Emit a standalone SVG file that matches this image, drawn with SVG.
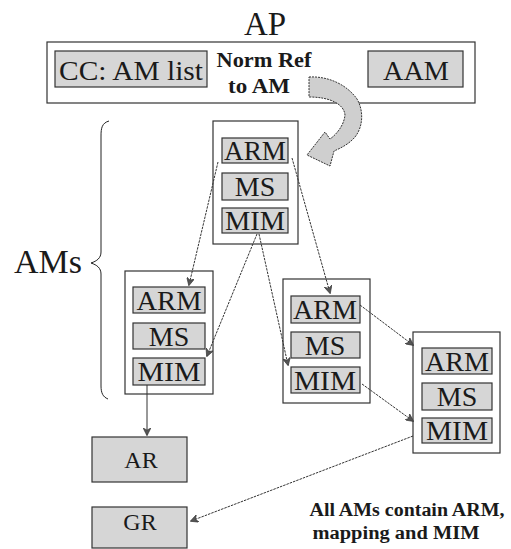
<svg xmlns="http://www.w3.org/2000/svg" width="511" height="549" viewBox="0 0 511 549">
<defs>
<marker id="ah" viewBox="0 0 10 10" refX="9" refY="5" markerWidth="8" markerHeight="8" orient="auto" markerUnits="userSpaceOnUse">
<path d="M0,0 L10,5 L0,10 L3,5 Z" fill="#555" stroke="#333" stroke-width="0.8"/>
</marker>
</defs>
<rect width="511" height="549" fill="#fff"/>
<g id="ap">
<text x="265" y="35" font-size="33" text-anchor="middle" fill="#1a1a1a" style="font-family:'Liberation Serif',serif">AP</text>
<rect x="47" y="42" width="428" height="61" fill="#fff" stroke="#333" stroke-width="1.2"/>
</g>
<g id="cc-am-list">
<rect x="55" y="51" width="152" height="36" fill="#d6d6d6" stroke="#333" stroke-width="1.2"/>
<text x="131" y="80" font-size="27" text-anchor="middle" fill="#1a1a1a" style="font-family:'Liberation Serif',serif" textLength="144" lengthAdjust="spacingAndGlyphs">CC: AM list</text>
</g>
<g id="aam">
<rect x="368" y="51" width="95" height="36" fill="#d6d6d6" stroke="#333" stroke-width="1.2"/>
<text x="416" y="80" font-size="28" text-anchor="middle" fill="#1a1a1a" style="font-family:'Liberation Serif',serif" textLength="66" lengthAdjust="spacingAndGlyphs">AAM</text>
</g>
<g id="norm-ref">
<text x="264" y="67" font-size="20" font-weight="bold" text-anchor="middle" fill="#1a1a1a" style="font-family:'Liberation Serif',serif" textLength="95" lengthAdjust="spacingAndGlyphs">Norm Ref</text>
<text x="259" y="93" font-size="20" font-weight="bold" text-anchor="middle" fill="#1a1a1a" style="font-family:'Liberation Serif',serif" textLength="62" lengthAdjust="spacingAndGlyphs">to  AM</text>
<path d="M309,77 C329,76 347,85 357,99 C364,111 363,127 355,137 C349,144 341,148 334,151 L330,166 L307,155 L325,132 L330,139 C337,134 344,125 345,115 C344,104 330,97 309,97 Z" fill="#cfcfcf" stroke="#333" stroke-width="1" stroke-dasharray="2,1"/>
</g>
<g id="ams-brace">
<text x="48" y="273" font-size="34" text-anchor="middle" fill="#1a1a1a" style="font-family:'Liberation Serif',serif">AMs</text>
<path d="M109,121 C102,123 101,128 101,136 L101,252 C101,258 97,261 91,263 C97,265 101,268 101,274 L101,386 C101,393 103,397 108,399" fill="none" stroke="#222" stroke-width="1"/>
</g>
<g id="am-top">
<rect x="213" y="121" width="85" height="123" fill="#fff" stroke="#333" stroke-width="1.2"/>
<rect x="222" y="138" width="66" height="25" fill="#d6d6d6" stroke="#333" stroke-width="1.2"/>
<text x="255" y="160" font-size="28" text-anchor="middle" fill="#1a1a1a" style="font-family:'Liberation Serif',serif" textLength="62" lengthAdjust="spacingAndGlyphs">ARM</text>
<rect x="222" y="173" width="66" height="27" fill="#d6d6d6" stroke="#333" stroke-width="1.2"/>
<text x="255" y="196" font-size="28" text-anchor="middle" fill="#1a1a1a" style="font-family:'Liberation Serif',serif">MS</text>
<rect x="222" y="208" width="66" height="25" fill="#d6d6d6" stroke="#333" stroke-width="1.2"/>
<text x="255" y="230" font-size="28" text-anchor="middle" fill="#1a1a1a" style="font-family:'Liberation Serif',serif" textLength="60" lengthAdjust="spacingAndGlyphs">MIM</text>
</g>
<g id="am-left">
<rect x="125" y="271" width="88" height="123" fill="#fff" stroke="#333" stroke-width="1.2"/>
<rect x="133" y="287" width="72" height="26" fill="#d6d6d6" stroke="#333" stroke-width="1.2"/>
<text x="169" y="310" font-size="28" text-anchor="middle" fill="#1a1a1a" style="font-family:'Liberation Serif',serif" textLength="65" lengthAdjust="spacingAndGlyphs">ARM</text>
<rect x="133" y="323" width="72" height="26" fill="#d6d6d6" stroke="#333" stroke-width="1.2"/>
<text x="169" y="346" font-size="28" text-anchor="middle" fill="#1a1a1a" style="font-family:'Liberation Serif',serif">MS</text>
<rect x="133" y="358" width="72" height="27" fill="#d6d6d6" stroke="#333" stroke-width="1.2"/>
<text x="169" y="381" font-size="28" text-anchor="middle" fill="#1a1a1a" style="font-family:'Liberation Serif',serif" textLength="63" lengthAdjust="spacingAndGlyphs">MIM</text>
</g>
<g id="am-middle">
<rect x="283" y="279" width="87" height="124" fill="#fff" stroke="#333" stroke-width="1.2"/>
<rect x="291" y="296" width="69" height="27" fill="#d6d6d6" stroke="#333" stroke-width="1.2"/>
<text x="325" y="319" font-size="28" text-anchor="middle" fill="#1a1a1a" style="font-family:'Liberation Serif',serif" textLength="64" lengthAdjust="spacingAndGlyphs">ARM</text>
<rect x="291" y="332" width="69" height="26" fill="#d6d6d6" stroke="#333" stroke-width="1.2"/>
<text x="325" y="355" font-size="28" text-anchor="middle" fill="#1a1a1a" style="font-family:'Liberation Serif',serif">MS</text>
<rect x="291" y="367" width="69" height="26" fill="#d6d6d6" stroke="#333" stroke-width="1.2"/>
<text x="325" y="390" font-size="28" text-anchor="middle" fill="#1a1a1a" style="font-family:'Liberation Serif',serif" textLength="62" lengthAdjust="spacingAndGlyphs">MIM</text>
</g>
<g id="am-right">
<rect x="413" y="332" width="87" height="121" fill="#fff" stroke="#333" stroke-width="1.2"/>
<rect x="422" y="348" width="70" height="26" fill="#d6d6d6" stroke="#333" stroke-width="1.2"/>
<text x="457" y="371" font-size="28" text-anchor="middle" fill="#1a1a1a" style="font-family:'Liberation Serif',serif" textLength="64" lengthAdjust="spacingAndGlyphs">ARM</text>
<rect x="422" y="383" width="70" height="27" fill="#d6d6d6" stroke="#333" stroke-width="1.2"/>
<text x="457" y="406" font-size="28" text-anchor="middle" fill="#1a1a1a" style="font-family:'Liberation Serif',serif">MS</text>
<rect x="422" y="418" width="70" height="25" fill="#d6d6d6" stroke="#333" stroke-width="1.2"/>
<text x="457" y="440" font-size="28" text-anchor="middle" fill="#1a1a1a" style="font-family:'Liberation Serif',serif" textLength="62" lengthAdjust="spacingAndGlyphs">MIM</text>
</g>
<g id="ar">
<rect x="92" y="437" width="95" height="45" fill="#d6d6d6" stroke="#333" stroke-width="1.2"/>
<text x="141" y="468" font-size="24" text-anchor="middle" fill="#1a1a1a" style="font-family:'Liberation Serif',serif">AR</text>
</g>
<g id="gr">
<rect x="92" y="507" width="95" height="41" fill="#d6d6d6" stroke="#333" stroke-width="1.2"/>
<text x="140" y="530" font-size="24" text-anchor="middle" fill="#1a1a1a" style="font-family:'Liberation Serif',serif">GR</text>
</g>
<g id="note">
<text x="407" y="516" font-size="18" font-weight="bold" text-anchor="middle" fill="#1a1a1a" style="font-family:'Liberation Serif',serif" textLength="195" lengthAdjust="spacingAndGlyphs">All AMs contain ARM,</text>
<text x="396" y="539" font-size="18" font-weight="bold" text-anchor="middle" fill="#1a1a1a" style="font-family:'Liberation Serif',serif" textLength="167" lengthAdjust="spacingAndGlyphs">mapping and MIM</text>
</g>
<g id="connectors" fill="none" stroke="#333" stroke-width="1">
<line stroke-dasharray="2.5,1" x1="218" y1="162" x2="189" y2="285" marker-end="url(#ah)"/>
<line stroke-dasharray="2.5,1" x1="292" y1="158" x2="330" y2="293" marker-end="url(#ah)"/>
<line stroke-dasharray="2.5,1" x1="257" y1="234" x2="207" y2="356" marker-end="url(#ah)"/>
<line stroke-dasharray="2.5,1" x1="259" y1="234" x2="288" y2="365" marker-end="url(#ah)"/>
<line x1="147" y1="385" x2="147" y2="435" marker-end="url(#ah)"/>
<line stroke-dasharray="2.5,1" x1="360" y1="305" x2="413" y2="345" marker-end="url(#ah)"/>
<line stroke-dasharray="2.5,1" x1="362" y1="384" x2="413" y2="421" marker-end="url(#ah)"/>
<line stroke-dasharray="2.5,1" x1="413" y1="436" x2="191" y2="521" marker-end="url(#ah)"/>
</g>
</svg>
